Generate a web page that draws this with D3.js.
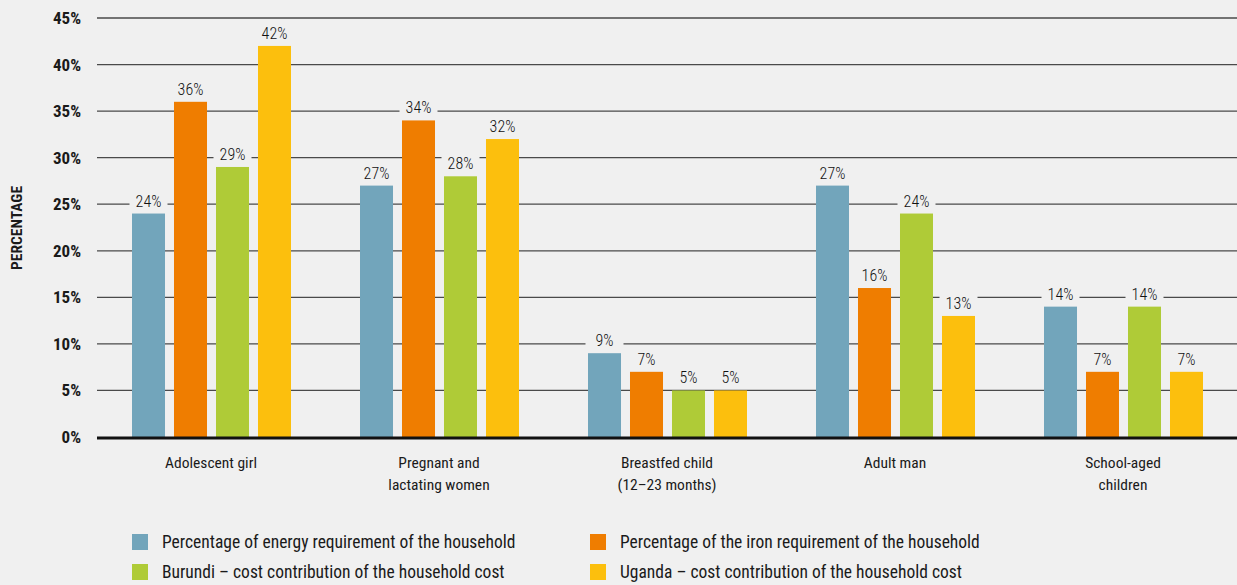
<!DOCTYPE html>
<html><head><meta charset="utf-8">
<script src="https://cdn.jsdelivr.net/npm/d3@7"></script>
<style>
html,body{margin:0;padding:0;background:#f0f0f0;}
svg{display:block;}
text{font-family:Roboto,sans-serif;}
</style></head>
<body><svg id="c" width="1237" height="585"></svg>
<script>
const categories = [["Adolescent girl"],["Pregnant and","lactating women"],["Breastfed child","(12\u201323 months)"],["Adult man"],["School-aged","children"]];
const seriesNames = ["Percentage of energy requirement of the household","Percentage of the iron requirement of the household","Burundi \u2013 cost contribution of the household cost","Uganda \u2013 cost contribution of the household cost"];
const seriesColors = ["#72a5bb","#ef7d00","#afcb37","#fcbf0d"];
const energy = [24,27,9,27,14];
const iron = [36,34,7,16,7];
const burundi = [29,28,5,24,14];
const uganda = [42,32,5,13,7];
const yTicks = [0,5,10,15,20,25,30,35,40,45];
const series = [energy, iron, burundi, uganda];

const svg = d3.select("#c");
svg.append("rect").attr("width",1237).attr("height",585).attr("fill","#f0f0f0");

const x0 = d3.scaleBand().domain(d3.range(categories.length)).range([97,1237]).padding(0);
const x1 = d3.scaleBand().domain(d3.range(series.length)).range([-79,80]).paddingInner(0.214).paddingOuter(0);
const y = d3.scaleLinear().domain([0,45]).range([437,18]);

// gridlines
svg.append("g").selectAll("line").data(yTicks.filter(t=>t>0)).join("line")
  .attr("x1",97).attr("x2",1237).attr("y1",d=>y(d)).attr("y2",d=>y(d))
  .attr("stroke","#4a4a4a").attr("stroke-width",1.3);

// y axis labels
const yAxis = d3.axisLeft(y).tickValues(yTicks).tickFormat(d=>d+"%").tickSize(0).tickPadding(16);
const ga = svg.append("g").attr("transform","translate(97,0)").call(yAxis);
ga.select(".domain").remove();
ga.selectAll("text").attr("font-size",17).attr("font-weight","bold").attr("fill","#1a1a1a")
  .attr("font-family","Roboto,sans-serif").style("font-stretch","condensed");

// y title
svg.append("text").attr("transform","translate(22,228) rotate(-90)").attr("text-anchor","middle")
  .attr("font-size",15.5).attr("font-weight","bold").attr("fill","#1a1a1a").style("font-stretch","condensed").text("PERCENTAGE");

// bars
const groups = svg.append("g").selectAll("g").data(categories).join("g")
  .attr("transform",(d,i)=>`translate(${x0(i)+x0.bandwidth()/2},0)`);
groups.each(function(c,ci){
  const g = d3.select(this);
  series.forEach((s,si)=>{
    g.append("rect").attr("x",x1(si)).attr("width",x1.bandwidth())
      .attr("y",y(s[ci])).attr("height",y(0)-y(s[ci])).attr("fill",seriesColors[si]);
  });
});

// zero line
svg.append("line").attr("x1",97).attr("x2",1237).attr("y1",y(0)+1).attr("y2",y(0)+1)
  .attr("stroke","#111").attr("stroke-width",3);

// value labels
groups.each(function(c,ci){
  const g = d3.select(this);
  series.forEach((s,si)=>{
    const cx = x1(si)+x1.bandwidth()/2;
    const ty = y(s[ci])-7;
    g.append("rect").attr("x",cx-19).attr("y",ty-15).attr("width",38).attr("height",19).attr("fill","#f0f0f0");
    g.append("text").attr("x",cx).attr("y",ty).attr("text-anchor","middle")
      .attr("font-size",16).attr("font-weight",300).style("font-stretch","condensed")
      .attr("fill","#111").text(s[ci]+"%");
  });
});

// category labels
groups.each(function(c){
  const t = d3.select(this).append("text").attr("text-anchor","middle").attr("font-size",15.5)
    .style("font-stretch","condensed").attr("fill","#1a1a1a");
  c.forEach((line,li)=>t.append("tspan").attr("x",0).attr("y",468+li*22).text(line));
});

// legend
const legPos = [[132,542],[590,542],[132,572],[590,572]];
seriesNames.forEach((n,i)=>{
  const [lx,ly] = legPos[i];
  svg.append("rect").attr("x",lx).attr("y",ly-8).attr("width",16).attr("height",16).attr("fill",seriesColors[i]);
  svg.append("text").attr("x",lx+30).attr("y",ly+6).attr("font-size",17.5).style("font-stretch","condensed")
    .attr("fill","#1a1a1a").text(n);
});
</script></body></html>
